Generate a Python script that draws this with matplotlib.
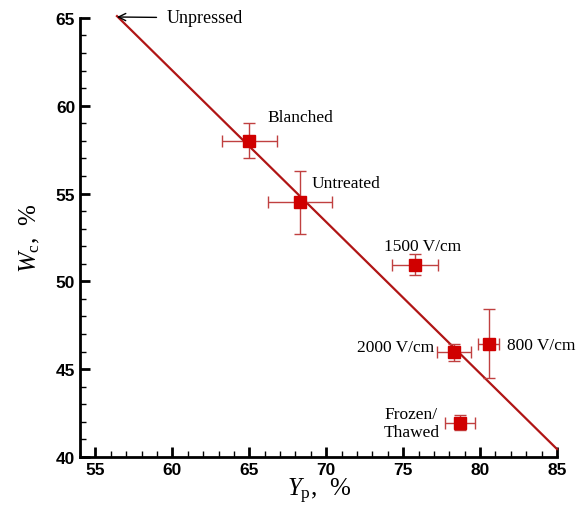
import matplotlib
matplotlib.use("Agg")
import matplotlib.pyplot as plt
from matplotlib.ticker import MultipleLocator

plt.rcParams["mathtext.fontset"] = "custom"
plt.rcParams["mathtext.rm"] = "Liberation Serif"
plt.rcParams["mathtext.it"] = "Liberation Serif:italic"

labels = ["Blanched", "Untreated", "1500 V/cm", "2000 V/cm", "800 V/cm", "Frozen/\nThawed"]
yp = [65.0, 68.3, 75.75, 78.3, 80.55, 78.7]
wc = [58.0, 54.5, 50.95, 45.95, 46.45, 41.95]
yp_err = [1.8, 2.1, 1.5, 1.1, 0.7, 0.95]
wc_err = [1.0, 1.8, 0.58, 0.48, 1.96, 0.43]
fit_x = [56.4, 85.0]
fit_y = [65.1, 40.45]
unpressed = (56.4, 65.05)

fig = plt.figure(figsize=(5.76, 5.10), dpi=100)
ax = fig.add_axes([0.139, 0.102, 0.828, 0.861])

ax.plot(fit_x, fit_y, color="#b01515", lw=1.6, zorder=2, clip_on=False)
ax.errorbar(yp, wc, xerr=yp_err, yerr=wc_err, fmt="none", ecolor="#c04040",
            elinewidth=1.0, capsize=4, capthick=1.0, zorder=3)
ax.plot(yp, wc, "s", color="#d00000", ms=8.5, zorder=4, clip_on=False)

serif = "Liberation Serif"
offsets = [(13, 17), (8, 14), (6, 13.5), (-14, 4), (13, -1), (-35, 0)]
has = ["left", "left", "center", "right", "left", "center"]
for lab, x, y, off, ha in zip(labels, yp, wc, offsets, has):
    ax.annotate(lab, (x, y), xytext=off, textcoords="offset points", ha=ha,
                va="center", fontsize=12.5, family=serif, linespacing=1.15,
                annotation_clip=False)

ax.annotate("Unpressed", xy=unpressed, xytext=(59.6, 65.0), textcoords="data",
            fontsize=13, family=serif, va="center", ha="left",
            arrowprops=dict(arrowstyle="->", color="black", lw=1.0,
                            shrinkA=5, shrinkB=0), annotation_clip=False)

ax.set_xlim(54, 85)
ax.set_ylim(40, 65)
ax.set_xticks([55, 60, 65, 70, 75, 80, 85])
ax.xaxis.set_minor_locator(MultipleLocator(1))
ax.yaxis.set_major_locator(MultipleLocator(5))
ax.yaxis.set_minor_locator(MultipleLocator(1))
ax.tick_params(which="major", direction="in", length=7, width=2)
ax.tick_params(which="minor", direction="in", length=4, width=1)
for lab in ax.get_xticklabels() + ax.get_yticklabels():
    lab.set_fontfamily("Liberation Sans")
    lab.set_fontweight("bold")
    lab.set_fontsize(12.5)
ax.spines["top"].set_visible(False)
ax.spines["right"].set_visible(False)
ax.spines["left"].set_linewidth(2)
ax.spines["bottom"].set_linewidth(2)

ax.set_xlabel(r"$Y_{\mathrm{p}}$,  %", fontsize=18, family=serif, labelpad=-1)
ax.set_ylabel(r"$W_{\mathrm{c}}$,  %", fontsize=18, family=serif, labelpad=10)

fig.savefig("out.png", dpi=100)
